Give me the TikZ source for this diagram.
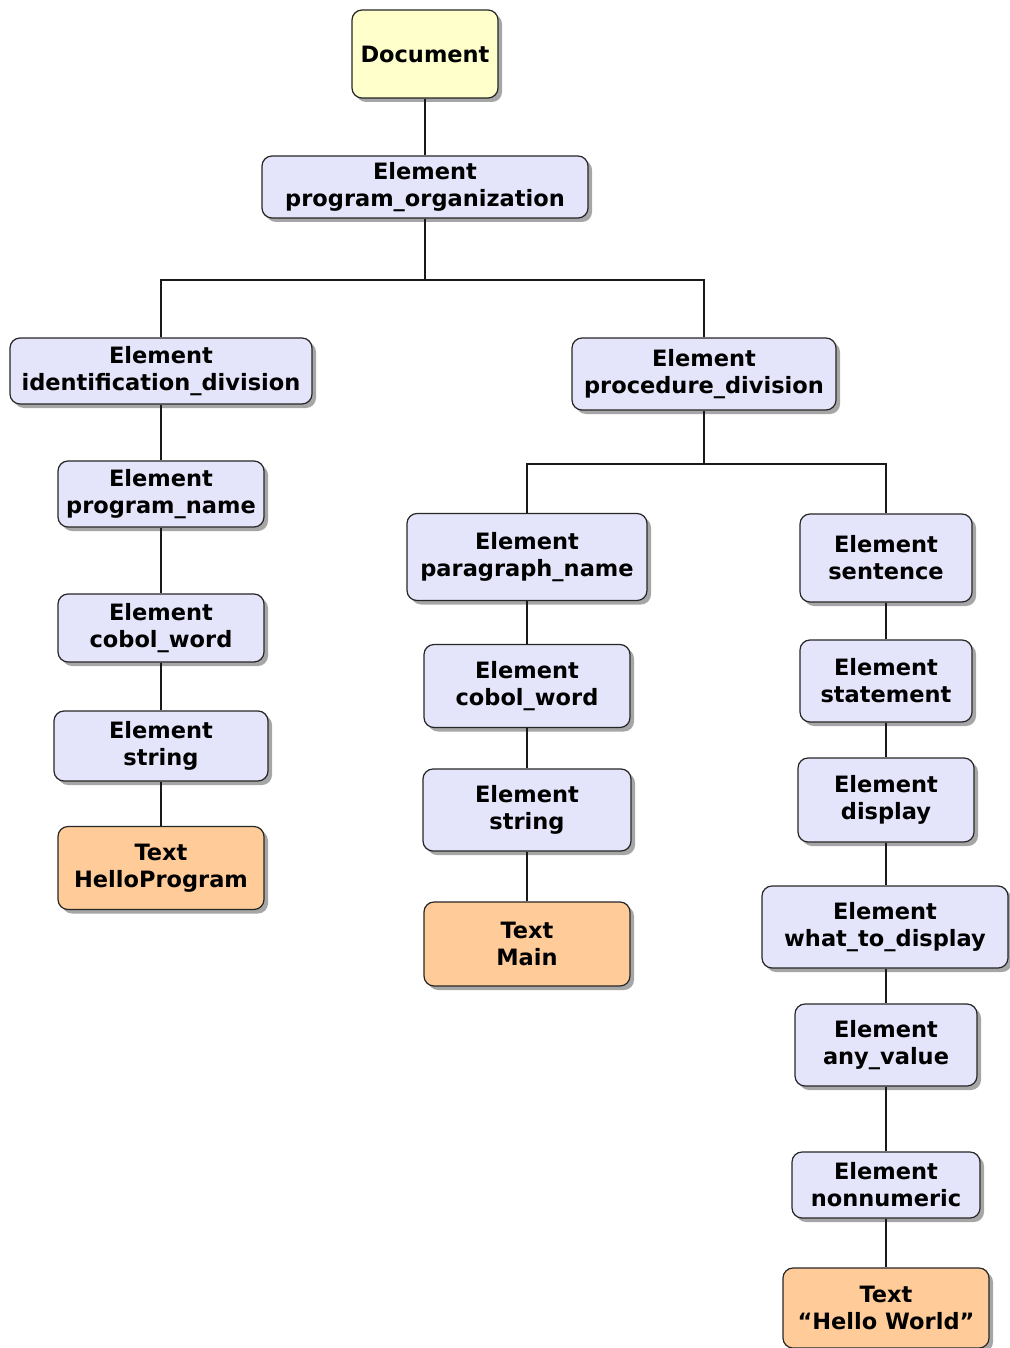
\documentclass[tikz,border=0pt]{standalone}
\usepackage{fontspec}
\setmainfont{DejaVu Sans}
\usetikzlibrary{shadows}

\definecolor{docfill}{HTML}{FFFFCC}
\definecolor{elemfill}{HTML}{E4E4FA}
\definecolor{textfill}{HTML}{FFCC99}

\begin{document}
\begin{tikzpicture}
    [x=1pt,y=-1pt,
     box/.style={rectangle,rounded corners=10pt,draw=black!85,line width=1.2pt,
       align=center,inner sep=2pt,font=\fontsize{22.5}{27}\selectfont\bfseries,
       drop shadow={shadow xshift=4pt,shadow yshift=-4pt,fill=black!35,opacity=1}},
     doc/.style={box,fill=docfill},
     elem/.style={box,fill=elemfill},
     txt/.style={box,fill=textfill},
     link/.style={line width=1.2pt,draw=black!90}]
    \useasboundingbox (0,0) rectangle (1009,1348);

    \node at (425,54) (doc) [doc,minimum width=146,minimum height=88] {Document};
    \node at (425,187) (org) [elem,minimum width=326,minimum height=62] {Element\\program\_organization};

    % left branch
    \node at (161,371) (ident) [elem,minimum width=302,minimum height=66] {Element\\identification\_division};
    \node at (161,494) (pname) [elem,minimum width=206,minimum height=66] {Element\\program\_name};
    \node at (161,628) (lword) [elem,minimum width=206,minimum height=68] {Element\\cobol\_word};
    \node at (161,746) (lstring) [elem,minimum width=214,minimum height=70] {Element\\string};
    \node at (161,868) (hello) [txt,minimum width=206,minimum height=83] {Text\\HelloProgram};

    % right branch
    \node at (704,374) (proc) [elem,minimum width=264,minimum height=72] {Element\\procedure\_division};
    \node at (527,557) (para) [elem,minimum width=240,minimum height=87] {Element\\paragraph\_name};
    \node at (527,686) (mword) [elem,minimum width=206,minimum height=83] {Element\\cobol\_word};
    \node at (527,810) (mstring) [elem,minimum width=208,minimum height=82] {Element\\string};
    \node at (527,944) (main) [txt,minimum width=206,minimum height=84] {Text\\Main};

    \node at (886,558) (sent) [elem,minimum width=172,minimum height=88] {Element\\sentence};
    \node at (886,681) (stmt) [elem,minimum width=172,minimum height=82] {Element\\statement};
    \node at (886,800) (disp) [elem,minimum width=176,minimum height=84] {Element\\display};
    \node at (885,927) (what) [elem,minimum width=246,minimum height=82] {Element\\what\_to\_display};
    \node at (886,1045) (anyv) [elem,minimum width=182,minimum height=82] {Element\\any\_value};
    \node at (886,1185) (nonnum) [elem,minimum width=188,minimum height=66] {Element\\nonnumeric};
    \node at (886,1308) (hworld) [txt,minimum width=206,minimum height=80] {Text\\``Hello World''};

    \coordinate (fork1) at (425,280);
    \coordinate (fork2) at (704,464);

    \draw[link] (doc) -- (org);
    \draw[link] (org) -- (fork1);
    \draw[link] (fork1) -| (ident);
    \draw[link] (fork1) -| (proc);

    \draw[link] (ident) -- (pname);
    \draw[link] (pname) -- (lword);
    \draw[link] (lword) -- (lstring);
    \draw[link] (lstring) -- (hello);

    \draw[link] (proc) -- (fork2);
    \draw[link] (fork2) -| (para);
    \draw[link] (fork2) -| (sent);

    \draw[link] (para) -- (mword);
    \draw[link] (mword) -- (mstring);
    \draw[link] (mstring) -- (main);

    \draw[link] (sent) -- (stmt);
    \draw[link] (stmt) -- (disp);
    \draw[link] (disp.south) -- (disp.south |- what.north);
    \draw[link] (what.south -| anyv) -- (anyv);
    \draw[link] (anyv) -- (nonnum);
    \draw[link] (nonnum) -- (hworld);
\end{tikzpicture}
\end{document}
